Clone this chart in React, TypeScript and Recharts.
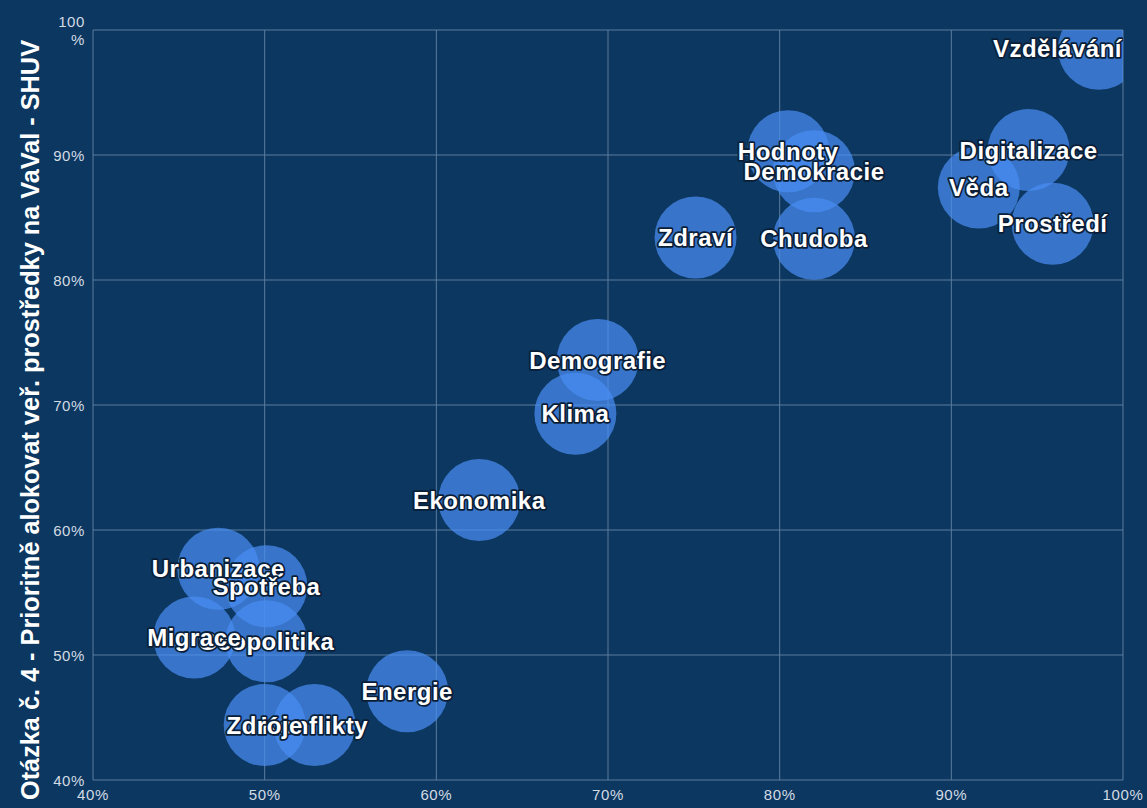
import React from 'react';
import { ScatterChart, Scatter, XAxis, YAxis, CartesianGrid } from 'recharts';

const topics = [
  'Vzdělávání', 'Hodnoty', 'Demokracie', 'Chudoba', 'Zdraví', 'Digitalizace', 'Věda', 'Prostředí',
  'Demografie', 'Klima', 'Ekonomika', 'Urbanizace', 'Spotřeba', 'Geopolitika', 'Migrace',
  'Energie', 'Konflikty', 'Zdroje',
];
const xValues = [98.6, 80.5, 82.0, 82.0, 75.1, 94.5, 91.6, 95.9, 69.4, 68.1, 62.5, 47.3, 50.1, 50.1, 45.9, 58.3, 52.9, 50.0];
const yValues = [98.5, 90.3, 88.7, 83.3, 83.4, 90.4, 87.4, 84.5, 73.6, 69.3, 62.4, 56.9, 55.5, 51.1, 51.4, 47.1, 44.4, 44.4];
const axisTicks = [40, 50, 60, 70, 80, 90, 100];
const yTitle = 'Otázka č. 4 - Prioritně alokovat veř. prostředky na VaVal - SHUV';

const data = topics.map((name, i) => ({ name, x: xValues[i], y: yValues[i] }));

const W = 1147;
const H = 808;
const MARGIN = { top: 30, right: 24, bottom: 0, left: 0 };
const Y_AXIS_W = 93;
const PLOT_LEFT = MARGIN.left + Y_AXIS_W;
const PLOT_RIGHT = W - MARGIN.right;
const BG = '#0c3760';
const GRID = '#5b7d9e';
const TICK = '#d3dbe3';
const LABEL_FONT = 'bold 24px "Liberation Sans", Arial, sans-serif';
const LABEL_SPACING = 0.5;
const R = 41;

let ctx: any = null;
const measure = (s: string) => {
  if (!ctx) ctx = document.createElement('canvas').getContext('2d');
  if (!ctx) return s.length * 13.5;
  ctx.font = LABEL_FONT;
  try { ctx.letterSpacing = `${LABEL_SPACING}px`; } catch (e) { /* ignore */ }
  return ctx.measureText(s).width;
};

const Bubble = (p: any) => (
  <circle cx={p.cx} cy={p.cy} r={R} fill="#4a8df2" fillOpacity={0.72} />
);

const BubbleLabel = (p: any) => {
  const name = p.payload?.name ?? '';
  const w = measure(name);
  let x = p.cx;
  if (x + w / 2 > PLOT_RIGHT - 1) x = PLOT_RIGHT - 1 - w / 2;
  if (x - w / 2 < PLOT_LEFT + 1) x = PLOT_LEFT + 1 + w / 2;
  return (
    <text
      x={x}
      y={p.cy}
      textAnchor="middle"
      dominantBaseline="central"
      fill="#ffffff"
      stroke="#0a1e38"
      strokeWidth={3.5}
      strokeLinejoin="round"
      paintOrder="stroke"
      style={{ font: LABEL_FONT, letterSpacing: LABEL_SPACING }}
    >
      {name}
    </text>
  );
};

const tickFont = { fontFamily: '"Liberation Sans", Arial, sans-serif', fontSize: 15, letterSpacing: 0.6 };

const YTick = (p: any) => {
  const v = p.payload?.value;
  if (v === 100) {
    return (
      <g>
        <text x={p.x} y={p.y - 9} textAnchor="end" dominantBaseline="central" fill={TICK} style={tickFont}>100</text>
        <text x={p.x} y={p.y + 9} textAnchor="end" dominantBaseline="central" fill={TICK} style={tickFont}>%</text>
      </g>
    );
  }
  return (
    <text x={p.x} y={p.y} textAnchor="end" dominantBaseline="central" fill={TICK} style={tickFont}>{`${v}%`}</text>
  );
};

const XTick = (p: any) => (
  <text x={p.x} y={p.y + 6} textAnchor="middle" dominantBaseline="central" fill={TICK} style={tickFont}>{`${p.payload?.value}%`}</text>
);

const YTitle = () => (
  <text
    x={30}
    y={420}
    transform="rotate(-90, 30, 420)"
    textAnchor="middle"
    dominantBaseline="central"
    fill="#ffffff"
    textLength={760}
    lengthAdjust="spacingAndGlyphs"
    style={{ font: 'bold 26px "Liberation Sans", Arial, sans-serif' }}
  >
    {yTitle}
  </text>
);

export default function App() {
  return (
    <div style={{ position: 'absolute', left: 0, top: 0, width: W, height: H, background: BG }}>
      <ScatterChart width={W} height={H} margin={MARGIN}>
        <CartesianGrid stroke={GRID} strokeWidth={1} horizontalValues={axisTicks} verticalValues={axisTicks} />
        <XAxis
          type="number"
          dataKey="x"
          domain={[40, 100]}
          ticks={axisTicks}
          allowDataOverflow
          axisLine={false}
          tickLine={false}
          height={28}
          tick={<XTick />}
          interval={0}
        />
        <YAxis
          type="number"
          dataKey="y"
          domain={[40, 100]}
          ticks={axisTicks}
          allowDataOverflow
          axisLine={false}
          tickLine={false}
          width={Y_AXIS_W}
          tickMargin={8}
          tickSize={0}
          tick={<YTick />}
          interval={0}
          label={<YTitle />}
        />
        <Scatter data={data} shape={<Bubble />} isAnimationActive={false} />
        <Scatter data={data} shape={<BubbleLabel />} isAnimationActive={false} />
      </ScatterChart>
    </div>
  );
}
